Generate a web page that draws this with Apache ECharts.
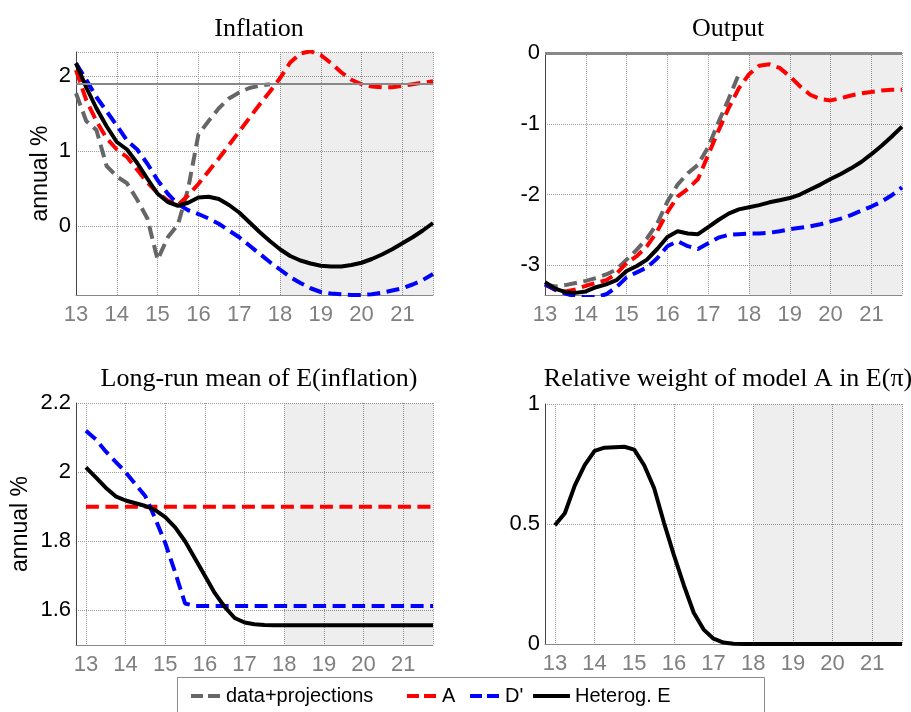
<!DOCTYPE html>
<html><head><meta charset="utf-8">
<script src="https://cdn.jsdelivr.net/npm/echarts@6/dist/echarts.min.js"></script>
<style>html,body{margin:0;padding:0;background:#fff}#c{width:911px;height:712px}</style>
</head><body><div id="c"></div>
<script>
// quarters (years since 2000)
const quarters = [13, 13.25, 13.5, 13.75, 14, 14.25, 14.5, 14.75, 15, 15.25, 15.5, 15.75, 16, 16.25, 16.5, 16.75, 17, 17.25, 17.5, 17.75, 18, 18.25, 18.5, 18.75, 19, 19.25, 19.5, 19.75, 20, 20.25, 20.5, 20.75, 21, 21.25, 21.5, 21.75];

// Inflation panel
const infData = [1.77, 1.40, 1.28, 0.80, 0.66, 0.57, 0.35, 0.10, -0.45, -0.15, 0.02, 0.50, 1.22, 1.40, 1.57, 1.70, 1.78, 1.84, 1.87, 1.89];
const infA = [2.08, 1.68, 1.40, 1.17, 1.02, 0.92, 0.75, 0.58, 0.44, 0.34, 0.28, 0.41, 0.56, 0.73, 0.90, 1.08, 1.26, 1.44, 1.62, 1.79, 1.97, 2.18, 2.30, 2.33, 2.28, 2.17, 2.05, 1.95, 1.89, 1.86, 1.85, 1.85, 1.87, 1.89, 1.91, 1.93];
const infD = [2.17, 1.95, 1.72, 1.53, 1.34, 1.14, 1.02, 0.83, 0.61, 0.43, 0.29, 0.21, 0.16, 0.10, 0.03, -0.06, -0.15, -0.26, -0.37, -0.48, -0.58, -0.68, -0.76, -0.83, -0.88, -0.90, -0.91, -0.92, -0.92, -0.91, -0.89, -0.86, -0.83, -0.78, -0.72, -0.64];
const infHet = [2.17, 1.85, 1.57, 1.33, 1.12, 1.02, 0.84, 0.63, 0.43, 0.32, 0.27, 0.31, 0.38, 0.39, 0.36, 0.28, 0.18, 0.05, -0.08, -0.20, -0.31, -0.40, -0.46, -0.50, -0.53, -0.54, -0.54, -0.52, -0.49, -0.44, -0.38, -0.31, -0.23, -0.15, -0.06, 0.04];
const infTarget = 1.9;

// Output panel
const outData = [-3.27, -3.30, -3.28, -3.25, -3.22, -3.18, -3.13, -3.06, -2.92, -2.78, -2.62, -2.41, -2.10, -1.86, -1.70, -1.58, -1.33, -0.98, -0.65, -0.30];
const outA = [-3.27, -3.35, -3.37, -3.34, -3.29, -3.25, -3.21, -3.12, -2.97, -2.87, -2.73, -2.52, -2.25, -2.03, -1.92, -1.78, -1.44, -1.10, -0.78, -0.50, -0.30, -0.18, -0.16, -0.21, -0.33, -0.47, -0.59, -0.65, -0.67, -0.64, -0.60, -0.57, -0.55, -0.53, -0.52, -0.52];
const outD = [-3.27, -3.34, -3.40, -3.44, -3.45, -3.45, -3.41, -3.31, -3.17, -3.10, -3.03, -2.90, -2.73, -2.66, -2.73, -2.77, -2.69, -2.61, -2.57, -2.56, -2.55, -2.55, -2.54, -2.52, -2.49, -2.47, -2.45, -2.42, -2.38, -2.34, -2.29, -2.23, -2.17, -2.10, -2.01, -1.90];
const outHet = [-3.24, -3.33, -3.38, -3.39, -3.37, -3.31, -3.27, -3.21, -3.08, -3.01, -2.92, -2.77, -2.60, -2.52, -2.55, -2.56, -2.46, -2.36, -2.27, -2.21, -2.18, -2.15, -2.11, -2.08, -2.05, -2.00, -1.93, -1.86, -1.78, -1.71, -1.63, -1.54, -1.43, -1.31, -1.18, -1.04];
const outGap0 = 0;

// Long-run mean of E(inflation)
const lrA = [1.90, 1.90, 1.90, 1.90, 1.90, 1.90, 1.90, 1.90, 1.90, 1.90, 1.90, 1.90, 1.90, 1.90, 1.90, 1.90, 1.90, 1.90, 1.90, 1.90, 1.90, 1.90, 1.90, 1.90, 1.90, 1.90, 1.90, 1.90, 1.90, 1.90, 1.90, 1.90, 1.90, 1.90, 1.90, 1.90];
const lrD = [2.12, 2.095, 2.06, 2.03, 2.00, 1.965, 1.93, 1.865, 1.795, 1.71, 1.62, 1.613, 1.613, 1.613, 1.613, 1.613, 1.613, 1.613, 1.613, 1.613, 1.613, 1.613, 1.613, 1.613, 1.613, 1.613, 1.613, 1.613, 1.613, 1.613, 1.613, 1.613, 1.613, 1.613, 1.613, 1.613];
const lrHet = [2.014, 1.985, 1.955, 1.930, 1.918, 1.910, 1.902, 1.890, 1.870, 1.840, 1.800, 1.750, 1.700, 1.650, 1.610, 1.578, 1.565, 1.560, 1.558, 1.557, 1.557, 1.557, 1.557, 1.557, 1.557, 1.557, 1.557, 1.557, 1.557, 1.557, 1.557, 1.557, 1.557, 1.557, 1.557, 1.557];

// Relative weight of model A
const weightA = [0.495, 0.545, 0.66, 0.745, 0.805, 0.818, 0.82, 0.822, 0.81, 0.745, 0.65, 0.505, 0.37, 0.245, 0.13, 0.06, 0.022, 0.006, 0.001, 0, 0, 0, 0, 0, 0, 0, 0, 0, 0, 0, 0, 0, 0, 0, 0, 0];

const projStart = 18, projEnd = 21.75;
const titles = ['Inflation', 'Output', 'Long-run mean of E(inflation)', 'Relative weight of model A in E(\u03c0)'];
const names = ['data+projections', 'A', "D'", 'Heterog. E'];

const SANS = 'Liberation Sans';
const SERIF = 'Liberation Serif';
const colors = {'data+projections': '#666666', 'A': '#ff0000', "D'": '#0000ff', 'Heterog. E': '#000000'};
const DASH = [13, 6.5];

function pairs(ys) { return ys.map((v, i) => [quarters[i], v]); }
function line(name, ys, g, extra) {
  const s = {
    name: name, type: 'line', xAxisIndex: g, yAxisIndex: g,
    data: pairs(ys), symbol: 'none', showSymbol: false, animation: false,
    lineStyle: {color: colors[name], width: 4, type: name === 'Heterog. E' ? 'solid' : DASH, cap: 'butt'},
    itemStyle: {color: colors[name]}, z: 3
  };
  return Object.assign(s, extra || {});
}
const shade = {silent: true, itemStyle: {color: 'rgba(0,0,0,0.065)'}, data: [[{xAxis: projStart}, {xAxis: projEnd}]]};
function hline(v, w) {
  return {silent: true, symbol: 'none', label: {show: false},
    lineStyle: {color: '#888', width: w, type: 'solid'}, data: [{yAxis: v}]};
}

const grids = [
  {left: 76, top: 52, width: 357, height: 243},
  {left: 545, top: 53, width: 357, height: 242},
  {left: 76, top: 403, width: 357, height: 242},
  {left: 545, top: 404, width: 357, height: 240}
];
grids.forEach(g => { g.containLabel = false; g.outerBoundsMode = 'none'; });

const split = {show: true, lineStyle: {type: 'dotted', color: '#9a9a9a', width: 1}};
function xAx(g, min) {
  return {gridIndex: g, type: 'value', min: min, max: projEnd, minInterval: 1, maxInterval: 1, splitNumber: 9,
    axisLine: {show: true, onZero: false, lineStyle: {color: '#888', width: 1}},
    axisTick: {show: false},
    axisLabel: {color: '#808080', fontSize: 22, fontFamily: SANS, margin: 9, showMinLabel: min === 13, showMaxLabel: false},
    splitLine: split};
}
function yAx(g, min, max, iv, showMin, name, gap) {
  const a = {gridIndex: g, type: 'value', min: min, max: max, minInterval: iv, maxInterval: iv, splitNumber: 4,
    axisLine: {show: true, onZero: false, lineStyle: {color: '#444', width: 1}},
    axisTick: {show: false},
    axisLabel: {color: '#000', fontSize: 22, fontFamily: SANS, margin: 5, showMinLabel: showMin, showMaxLabel: true},
    splitLine: split};
  if (name) {
    a.name = name; a.nameLocation = 'middle'; a.nameGap = gap;
    a.nameTextStyle = {color: '#000', fontSize: 23, fontFamily: SANS};
  }
  return a;
}
const y0 = yAx(0, -0.92, 2.32, 1, false, 'annual %', 24);
y0.axisLabel.showMaxLabel = false;

const titleDefs = [[254, 11], [723, 11], [254, 361], [723, 361]];

// manual legend (positions only)
const legendY = 696;
const legendItems = [
  {name: names[0], x0: 191, x1: 220, tx: 226},
  {name: names[1], x0: 407, x1: 437, tx: 442},
  {name: names[2], x0: 470, x1: 500, tx: 505},
  {name: names[3], x0: 533, x1: 570, tx: 575}
];
const legendGraphics = [{type: 'rect', z: 10, shape: {x: 177.5, y: 677.5, width: 587, height: 60},
  style: {fill: '#fff', stroke: '#8c8c8c', lineWidth: 1}}];
legendItems.forEach(it => {
  legendGraphics.push({type: 'line', z: 11, shape: {x1: it.x0, y1: legendY, x2: it.x1, y2: legendY},
    style: {stroke: colors[it.name], lineWidth: 4, lineDash: it.name === 'Heterog. E' ? null : [12, 5]}});
  legendGraphics.push({type: 'text', z: 11, style: {text: it.name, x: it.tx, y: legendY, fill: '#000',
    font: '20px "Liberation Sans"', align: 'left', verticalAlign: 'middle'}});
});

const option = {
  backgroundColor: '#fff',
  animation: false,
  title: titles.map((t, i) => ({text: t, left: titleDefs[i][0], top: titleDefs[i][1], textAlign: 'center',
    textStyle: {fontFamily: SERIF, fontSize: 26, fontWeight: 'normal', color: '#000'}})),
  grid: grids,
  xAxis: [xAx(0, 13), xAx(1, 13), xAx(2, 12.75), xAx(3, 12.75)],
  yAxis: [y0, yAx(1, -3.42, 0, 1, false), yAx(2, 1.5, 2.2, 0.2, false, 'annual %', 44), yAx(3, 0, 1, 0.5, true)],
  graphic: legendGraphics,
  series: [
    line('data+projections', infData, 0, {markArea: shade, markLine: hline(infTarget, 2)}),
    line('A', infA, 0), line("D'", infD, 0), line('Heterog. E', infHet, 0),
    line('data+projections', outData, 1, {markArea: shade, markLine: hline(outGap0, 3)}),
    line('A', outA, 1), line("D'", outD, 1), line('Heterog. E', outHet, 1),
    line('A', lrA, 2, {markArea: shade}), line("D'", lrD, 2), line('Heterog. E', lrHet, 2),
    line('Heterog. E', weightA, 3, {markArea: shade})
  ]
};
const chart = echarts.init(document.getElementById('c'), null, {renderer: 'canvas'});
chart.setOption(option);
</script></body></html>
